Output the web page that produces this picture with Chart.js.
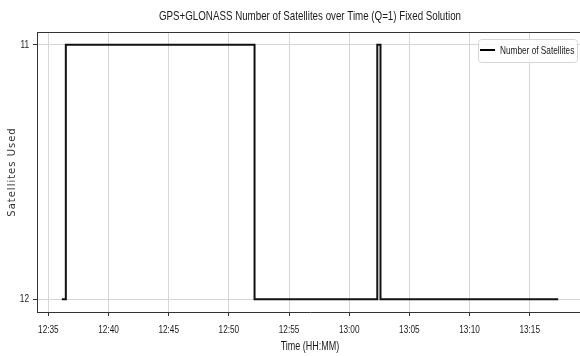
<!DOCTYPE html>
<html>
<head>
<meta charset="utf-8">
<script src="https://cdn.jsdelivr.net/npm/chart.js@4.4.0/dist/chart.umd.min.js"></script>
<style>
  html, body { margin: 0; padding: 0; background: #fff; overflow: hidden; }
  #wrap { width: 586px; height: 356px; }
</style>
</head>
<body>
<div id="wrap"><canvas id="chart" width="586" height="356"></canvas></div>
<script>
// sample times (HH:MM:SS) and satellites used
const times = ['12:36:07', '12:36:27', '12:52:08', '13:02:20', '13:02:36', '13:17:22'];
const satellites = [12, 11, 12, 11, 12, 12];
const xTickLabels = ['12:35', '12:40', '12:45', '12:50', '12:55', '13:00', '13:05', '13:10', '13:15'];
const yTickValues = [11, 12];

const TITLE = 'GPS+GLONASS Number of Satellites over Time (Q=1) Fixed Solution';
const X_TITLE = 'Time (HH:MM)';
const Y_TITLE = 'Satellites Used';

const FAMILY = "'Liberation Sans', Arial, sans-serif";
const SQUEEZE = 0.75; // the reference text is horizontally condensed

const toMin = s => {
  const p = s.split(':').map(Number);
  return p[0] * 60 + p[1] + (p[2] || 0) / 60;
};

const xs = times.map(toMin);
const span = xs[xs.length - 1] - xs[0];
const xMin = xs[0] - span * 0.05;
const xMax = xs[xs.length - 1] + span * 0.05;

const points = xs.map((x, i) => ({ x: x, y: satellites[i] }));

function squeezedText(ctx, text, x, y, size, align, color) {
  ctx.save();
  ctx.font = size + 'px ' + FAMILY;
  ctx.fillStyle = color || '#1a1a1a';
  ctx.textAlign = align;
  ctx.textBaseline = 'middle';
  ctx.translate(x, y);
  ctx.scale(SQUEEZE, 1);
  ctx.fillText(text, 0, 0);
  ctx.restore();
}

// title, tick labels, axis titles
const texts = {
  id: 'texts',
  afterDraw(chart) {
    const { ctx, chartArea: a } = chart;
    const sx = chart.scales.x, sy = chart.scales.y;
    squeezedText(ctx, TITLE, (a.left + a.right) / 2, 16, 13, 'center');
    xTickLabels.forEach(t => {
      squeezedText(ctx, t, sx.getPixelForValue(toMin(t)), a.bottom + 17.5, 11, 'center');
    });
    yTickValues.forEach(v => {
      squeezedText(ctx, String(v), a.left - 8, sy.getPixelForValue(v), 11, 'right');
    });
    squeezedText(ctx, X_TITLE, (a.left + a.right) / 2, 347, 12, 'center');

    ctx.save();
    ctx.translate(12, (a.top + a.bottom) / 2);
    ctx.rotate(-Math.PI / 2);
    ctx.font = "10px 'DejaVu Sans', sans-serif";
    ctx.letterSpacing = '1px';
    ctx.fillStyle = '#333';
    ctx.textAlign = 'center';
    ctx.textBaseline = 'middle';
    ctx.fillText(Y_TITLE, 0, 0);
    ctx.restore();
  }
};

// legend box inside the plot, top right
const legendBox = {
  id: 'legendBox',
  afterDraw(chart) {
    const ctx = chart.ctx;
    const ds = chart.data.datasets[0];
    const x = 478, y = 39, w = 99, h = 23;
    ctx.save();
    ctx.fillStyle = 'rgba(255,255,255,0.85)';
    ctx.strokeStyle = '#d6d6d6';
    ctx.lineWidth = 1;
    ctx.beginPath();
    ctx.roundRect(x + 0.5, y + 0.5, w, h, 3);
    ctx.fill();
    ctx.stroke();
    ctx.strokeStyle = '#000';
    ctx.lineWidth = 2;
    ctx.beginPath();
    ctx.moveTo(x + 2, y + 11);
    ctx.lineTo(x + 17, y + 11);
    ctx.stroke();
    ctx.restore();
    squeezedText(ctx, ds.label, x + 22, y + 11.5, 11, 'left');
  }
};

// top frame line
const frame = {
  id: 'frame',
  afterDraw(chart) {
    const { ctx, chartArea: a } = chart;
    ctx.save();
    ctx.strokeStyle = '#333';
    ctx.lineWidth = 1;
    ctx.beginPath();
    ctx.moveTo(a.left, a.top + 0.5);
    ctx.lineTo(a.right, a.top + 0.5);
    ctx.moveTo(a.right - 0.5, a.top);
    ctx.lineTo(a.right - 0.5, a.bottom);
    ctx.stroke();
    ctx.restore();
  }
};

new Chart(document.getElementById('chart'), {
  type: 'line',
  data: {
    datasets: [{
      label: 'Number of Satellites',
      data: points,
      borderColor: '#111',
      borderWidth: 2,
      pointRadius: 0,
      stepped: 'before',
      fill: false
    }]
  },
  options: {
    responsive: false,
    animation: false,
    layout: { padding: { left: 0, right: 3, top: 32, bottom: 0 } },
    plugins: {
      legend: { display: false },
      tooltip: { enabled: false },
      title: { display: false }
    },
    scales: {
      x: {
        type: 'linear',
        min: xMin,
        max: xMax,
        afterBuildTicks: s => { s.ticks = xTickLabels.map(t => ({ value: toMin(t) })); },
        afterFit: s => { s.height = 44; },
        ticks: { display: false },
        grid: { color: '#d6d6d6', tickColor: '#333', tickLength: 4 },
        border: { color: '#333', width: 1 }
      },
      y: {
        type: 'linear',
        reverse: true,
        min: 10.95,
        max: 12.05,
        afterBuildTicks: s => { s.ticks = yTickValues.map(v => ({ value: v })); },
        afterFit: s => { s.width = 37; },
        ticks: { display: false },
        grid: { color: '#d6d6d6', tickColor: '#333', tickLength: 4 },
        border: { color: '#333', width: 1 }
      }
    }
  },
  plugins: [texts, legendBox, frame]
});
</script>
</body>
</html>
